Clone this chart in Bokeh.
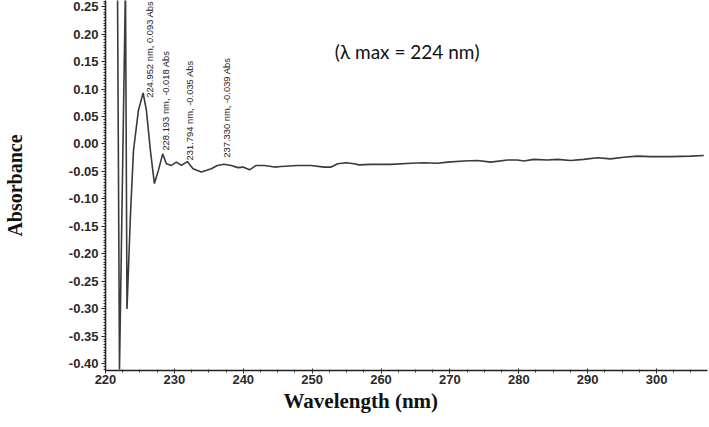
from bokeh.plotting import figure
from bokeh.models import Label, PrintfTickFormatter, FixedTicker, Range1d, Title
from bokeh.embed import file_html
from bokeh.resources import INLINE
import math

# Spectrum
wavelength = [221.74, 222.03, 222.90, 223.12, 223.62, 224.06, 224.78, 225.46,
              225.94, 226.52, 227.10, 227.68, 228.30, 228.84, 229.57, 230.29, 231.01,
              231.88, 232.71, 233.91, 235.36, 236.23, 237.20, 238.26, 239.23, 239.96,
              240.91, 241.88, 243.09, 244.54, 245.51, 247.93, 249.86, 251.74, 252.75,
              253.72, 254.93, 256.09, 256.81, 258.55, 261.45, 264.35, 266.23, 268.22,
              269.67, 272.03, 274.01, 275.94, 278.36, 279.81, 280.72, 282.17, 284.16,
              285.61, 287.54, 289.42, 291.41, 293.33, 295.22, 297.20, 299.13, 302.03,
              304.93, 306.86]
absorbance = [0.29, -0.41, 0.29, -0.300, -0.130, -0.012, 0.061, 0.093,
              0.061, -0.012, -0.072, -0.048, -0.018, -0.036, -0.039, -0.033, -0.039,
              -0.032, -0.045, -0.051, -0.045, -0.039, -0.037, -0.039, -0.043, -0.042,
              -0.047, -0.039, -0.039, -0.042, -0.041, -0.039, -0.039, -0.042, -0.042,
              -0.036, -0.034, -0.036, -0.038, -0.037, -0.037, -0.035, -0.034, -0.035,
              -0.033, -0.031, -0.030, -0.033, -0.029, -0.029, -0.031, -0.028, -0.029,
              -0.028, -0.030, -0.028, -0.025, -0.027, -0.024, -0.022, -0.023, -0.023,
              -0.022, -0.021]

peak_texts = ["224.952 nm, 0.093 Abs", "228.193 nm, -0.018 Abs",
              "231.794 nm, -0.035 Abs", "237.330 nm, -0.039 Abs"]
peak_text_x = [226.35, 228.70, 232.17, 237.54]
peak_text_y = [0.084, -0.012, -0.030, -0.025]

x_ticks = [220, 230, 240, 250, 260, 270, 280, 290, 300]
y_ticks = [0.25, 0.20, 0.15, 0.10, 0.05, 0.00, -0.05, -0.10, -0.15, -0.20,
           -0.25, -0.30, -0.35, -0.40]

p = figure(width=709, height=427, output_backend="svg", toolbar_location=None,
           x_range=Range1d(220, 307.4), y_range=Range1d(-0.412, 0.261),
           min_border_left=104, min_border_right=2, min_border_top=0,
           min_border_bottom=57)
p.outline_line_color = None
p.xgrid.visible = False
p.ygrid.visible = False
p.background_fill_color = "white"
p.border_fill_color = "white"

p.line(wavelength, absorbance, line_color="#3a3a3a", line_width=1.6)

for ax in (p.xaxis[0], p.yaxis[0]):
    ax.axis_line_color = "#222222"
    ax.axis_line_width = 1.6
    ax.major_tick_line_color = "#222222"
    ax.minor_tick_line_color = "#333333"
    ax.major_label_text_font = "Liberation Sans"
    ax.major_label_text_font_style = "bold"
    ax.major_label_text_font_size = "13px"
    ax.major_label_text_color = "#2a2a2a"

p.xaxis.ticker = FixedTicker(ticks=x_ticks, minor_ticks=[x / 2.0 for x in range(440, 616, 5)])
p.xaxis.major_tick_in = 2
p.xaxis.major_tick_out = 3
p.xaxis.minor_tick_in = 1
p.xaxis.minor_tick_out = 2
p.xaxis.major_label_standoff = 1

p.yaxis.ticker = FixedTicker(ticks=y_ticks, minor_ticks=[v / 200.0 for v in range(-82, 53)])
p.yaxis.formatter = PrintfTickFormatter(format="%.2f")
p.yaxis.major_tick_in = 0
p.yaxis.major_tick_out = 4
p.yaxis.minor_tick_in = 0
p.yaxis.minor_tick_out = 2
p.yaxis.major_label_standoff = 3
p.yaxis.axis_label = "Absorbance"
p.yaxis.axis_label_text_font = "Liberation Serif"
p.yaxis.axis_label_text_font_style = "bold"
p.yaxis.axis_label_text_font_size = "20px"
p.yaxis.axis_label_text_color = "#111111"
p.yaxis.axis_label_standoff = 40

for t, x, y in zip(peak_texts, peak_text_x, peak_text_y):
    p.add_layout(Label(x=x, y=y, text=t, angle=math.pi / 2, text_align="left",
                       text_baseline="middle", text_font="Liberation Sans",
                       text_font_size="9.4px", text_color="#222222"))

p.add_layout(Label(x=253.3, y=0.168, text="(\u03bb max = 224 nm)", text_font="Lato",
                   text_font_size="19px", text_color="#111111",
                   text_align="left", text_baseline="middle"))

xlabel = Title(text="Wavelength (nm)", align="left", offset=178, standoff=0,
               text_font="Liberation Serif", text_font_style="bold",
               text_font_size="21px", text_color="#111111")
p.add_layout(xlabel, "below")

open("out.html", "w").write(file_html(p, INLINE))
